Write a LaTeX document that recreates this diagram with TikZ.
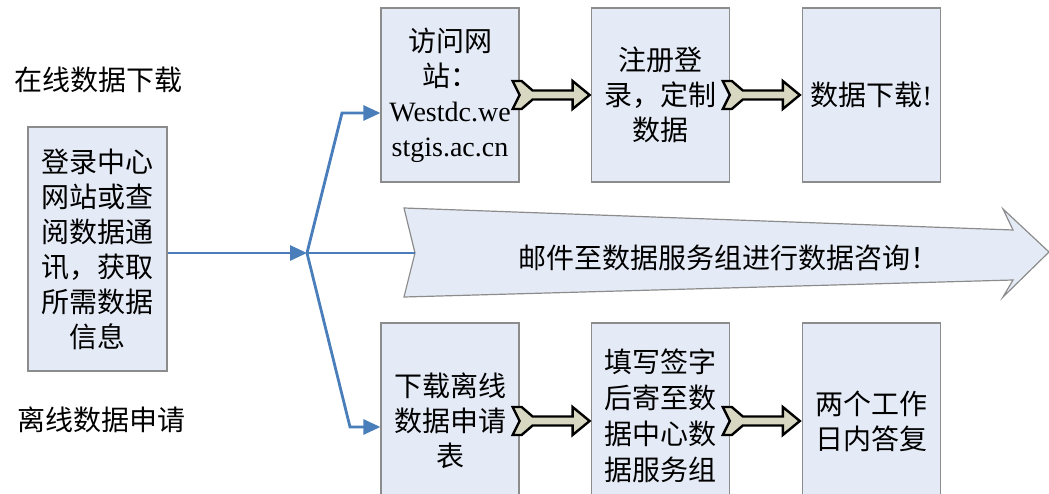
\documentclass[tikz,border=0pt]{standalone}
\usepackage{fontspec}
\setmainfont{Liberation Serif}
\newfontfamily\cjk{Noto Sans CJK SC}
\usetikzlibrary{arrows.meta,positioning}
\definecolor{boxfill}{RGB}{229,235,246}
\definecolor{boxline}{RGB}{140,140,140}
\definecolor{flow}{RGB}{74,126,187}
\definecolor{chevfill}{RGB}{216,216,194}
\tikzset{
  box/.style={draw=boxline,fill=boxfill,line width=1.2pt,minimum width=138pt,minimum height=174pt,inner sep=0pt,align=center,font=\cjk\fontsize{28}{35}\selectfont},
  lowbox/.style={box,minimum height=196pt},
  flowline/.style={draw=flow,line width=2.8pt,-{Triangle[length=17pt,width=15pt]}},
  chev/.style={draw=black,fill=chevfill,line width=2.4pt,line join=miter},
  caption/.style={font=\cjk\fontsize{28}{35}\selectfont}
}
\begin{document}
\begin{tikzpicture}[x=1pt,y=-1pt]
    \useasboundingbox (0,0) rectangle (1049,494);
    % left side
    \node[caption] (online) at (98,80) {在线数据下载};
    \node[caption] (offline) at (101,420) {离线数据申请};
    \node[box,minimum width=139pt,minimum height=244pt] (L) at (97.5,249) {登录中心\\网站或查\\阅数据通\\讯，获取\\所需数据\\信息};
    % boxes
    \node[box] (T1) at (450,95) {访问网\\站：\\{\rmfamily Westdc.we}\\{\rmfamily stgis.ac.cn}};
    \node[box,right=71pt of T1] (T2) {注册登\\录，定制\\数据};
    \node[box,right=72pt of T2] (T3) {数据下载{\rmfamily !}};
    \node[lowbox] (B1) at (450,421) {下载离线\\数据申请\\表};
    \node[lowbox,right=71pt of B1] (B2) {\raisebox{13pt}{\shortstack{填写签字\\[7pt]后寄至数\\[7pt]据中心数\\[7pt]据服务组}}};
    \node[lowbox,right=72pt of B2] (B3) {两个工作\\日内答复};
    % big arrow
    \coordinate (fork) at (307,253);
    \coordinate (notch) at (415,253);
    \coordinate (up) at (342,113);
    \coordinate (dn) at (350,427);
    \draw[draw=boxline,fill=boxfill,line width=1.2pt] (404,208) -- (1013,230) -- (1003,209) -- (1049,252) -- (1003,297) -- (1013,280) -- (404,297) -- (notch) -- cycle;
    \node[caption] (mail) at (728,258) {邮件至数据服务组进行数据咨询！};
    % blue lines
    \draw[flowline] (L.east |- fork) -- (fork);
    \draw[draw=flow,line width=2.8pt] (fork) -- (notch);
    \draw[flowline] (fork) -- (up) -- (up -| T1.west);
    \draw[flowline] (fork) -- (dn) -- (dn -| B1.west);
    % chevron arrows
    \foreach \p/\q in {T1/T2,T2/T3,B1/B2,B2/B3}
      \draw[chev] ([xshift=-7pt]\p.east) +(0,-14) -- +(9,-14) -- +(20,-4.5) -- +(60,-4.5) -- +(60,-14) -- +(77,0) -- +(60,14) -- +(60,4.5) -- +(20,4.5) -- +(9,14) -- +(0,14) -- +(7,0) -- cycle;
\end{tikzpicture}
\end{document}
